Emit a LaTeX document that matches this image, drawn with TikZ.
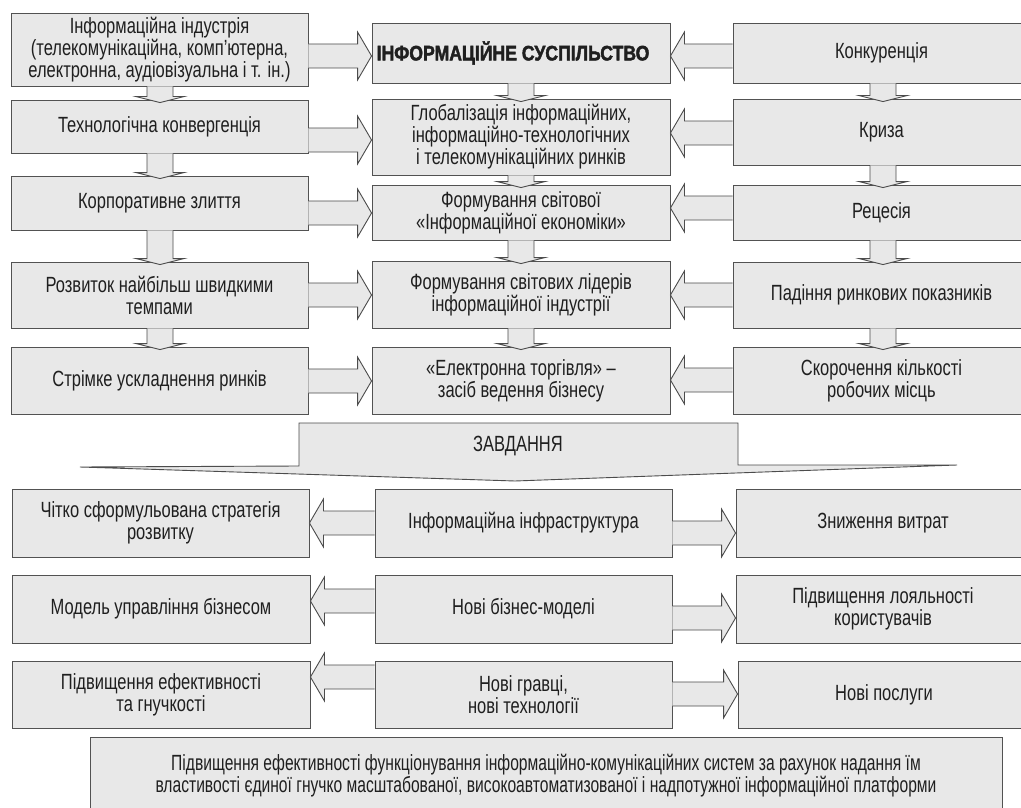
\documentclass[tikz,border=0pt]{standalone}
\usepackage{fontspec}
\setmainfont{Liberation Sans}[FakeStretch=0.75]
\newfontfamily\titlefont{Liberation Sans}[FakeStretch=0.84,FakeBold=2]
\newfontfamily\narrowfont{Liberation Sans}[FakeStretch=0.71]
\usetikzlibrary{calc}
\tikzset{
  box/.style={draw=black!68, fill=black!9, line width=0.9pt, align=center,
    inner sep=2pt, text=black!88, font=\fontsize{22}{22}\selectfont},
  barrow/.style={draw=black!70, fill=black!9, line width=0.9pt, line join=miter},
}
% box by corners: name, x1, y1, x2, y2, text
\newcommand\bx[6]{\node[box, minimum width={(#4-#2)*1pt}, minimum height={(#5-#3)*1pt}]
  (#1) at ({(#2+#4)/2},{(#3+#5)/2}) {#6};}
% right-pointing block arrow: from, to, y
\newcommand\rarr[3]{\filldraw[barrow] ($(#1.east |- 0,#3)+(0,12)$) -- ($(#2.west |- 0,#3)+(-14,12)$)
  -- ($(#2.west |- 0,#3)+(-14,24)$) -- (#2.west |- 0,#3) -- ($(#2.west |- 0,#3)+(-14,-24)$)
  -- ($(#2.west |- 0,#3)+(-14,-12)$) -- ($(#1.east |- 0,#3)+(0,-12)$);}
% left-pointing block arrow: from, to, y
\newcommand\larr[3]{\filldraw[barrow] ($(#1.west |- 0,#3)+(0,12)$) -- ($(#2.east |- 0,#3)+(14,12)$)
  -- ($(#2.east |- 0,#3)+(14,24)$) -- (#2.east |- 0,#3) -- ($(#2.east |- 0,#3)+(14,-24)$)
  -- ($(#2.east |- 0,#3)+(14,-12)$) -- ($(#1.west |- 0,#3)+(0,-12)$);}
% down block arrow: from, to, x
\newcommand\darr[3]{\filldraw[barrow] ($(#1.south -| #3,0)+(-13,0)$) -- ($(#2.north -| #3,0)+(-13,-3)$)
  -- ($(#2.north -| #3,0)+(-24,-3)$) -- ($(#2.north -| #3,0)+(0,3)$) -- ($(#2.north -| #3,0)+(24,-3)$)
  -- ($(#2.north -| #3,0)+(13,-3)$) -- ($(#1.south -| #3,0)+(13,0)$);}
\begin{document}
\begin{tikzpicture}[x=1pt,y=-1pt]
\useasboundingbox[fill=white] (0,0) rectangle (1021,808);
% left column
\bx{L1}{11}{13}{308}{86}{Інформаційна індустрія\\(телекомунікаційна, комп’ютерна,\\електронна, аудіовізуальна і т. ін.)}
\bx{L2}{11}{100}{308}{153}{Технологічна конвергенція}
\bx{L3}{11}{176}{308}{230}{Корпоративне злиття}
\bx{L4}{11}{262}{308}{328}{Розвиток найбільш швидкими\\темпами}
\bx{L5}{11}{347}{308}{414}{Стрімке ускладнення ринків}
% centre column
\bx{C1}{372}{23}{670}{83}{{\titlefont\bfseries\fontsize{21}{24}\selectfont\kern-16pt ІНФОРМАЦІЙНЕ СУСПІЛЬСТВО}}
\bx{C2}{372}{99}{670}{175}{Глобалізація інформаційних,\\інформаційно-технологічних\\і телекомунікаційних ринків}
\bx{C3}{372}{185}{670}{240}{Формування світової\\«Інформаційної економіки»}
\bx{C4}{372}{261}{670}{328}{Формування світових лідерів\\інформаційної індустрії}
\bx{C5}{372}{347}{670}{414}{«Електронна торгівля» –\\засіб ведення бізнесу}
% right column
\bx{R1}{733}{23}{1030}{83}{Конкуренція}
\bx{R2}{733}{99}{1030}{165}{Криза}
\bx{R3}{733}{185}{1030}{240}{Рецесія}
\bx{R4}{733}{262}{1030}{328}{Падіння ринкових показників}
\bx{R5}{733}{347}{1030}{414}{Скорочення кількості\\робочих місць}
% vertical arrows
\darr{L1}{L2}{160}\darr{L2}{L3}{160}\darr{L3}{L4}{160}\darr{L4}{L5}{160}
\darr{C1}{C2}{521}\darr{C2}{C3}{521}\darr{C3}{C4}{521}\darr{C4}{C5}{521}
\darr{R1}{R2}{883}\darr{R2}{R3}{883}\darr{R3}{R4}{883}\darr{R4}{R5}{883}
% horizontal arrows, upper part
\rarr{L1}{C1}{56}\rarr{L2}{C2}{140}\rarr{L3}{C3}{213}\rarr{L4}{C4}{295}\rarr{L5}{C5}{381}
\larr{R1}{C1}{56}\larr{R2}{C2}{133}\larr{R3}{C3}{208}\larr{R4}{C4}{295}\larr{R5}{C5}{380}
% ZAVDANNYA wide arrow
\filldraw[barrow] (299,466) -- (299,423) -- (738,423) -- (738,465) -- (957,465) -- (515,481) -- (80,467) -- cycle;
\node[font=\fontsize{22}{22}\selectfont, text=black!88] (zav) at (518,446) {ЗАВДАННЯ};
% lower part
\bx{LA}{12}{489}{309}{557}{Чітко сформульована стратегія\\розвитку}
\bx{CA}{375}{489}{672}{557}{Інформаційна інфраструктура}
\bx{RA}{736}{489}{1030}{557}{Зниження витрат}
\bx{LB}{12}{575}{310}{643}{Модель управління бізнесом}
\bx{CB}{375}{575}{672}{643}{Нові бізнес-моделі}
\bx{RB}{736}{575}{1030}{643}{Підвищення лояльності\\користувачів}
\bx{LC}{12}{661}{310}{728}{Підвищення ефективності\\та гнучкості}
\bx{CC}{375}{661}{672}{728}{Нові гравці,\\нові технології}
\bx{RC}{738}{661}{1030}{728}{Нові послуги}
\larr{CA}{LA}{523}\larr{CB}{LB}{601}\larr{CC}{LC}{677}
\rarr{CA}{RA}{533}\rarr{CB}{RB}{618}\rarr{CC}{RC}{694}
\bx{BOT}{90}{737}{1002}{815}{\narrowfont Підвищення ефективності функціонування інформаційно-комунікаційних систем за рахунок надання їм\\\narrowfont властивості єдиної гнучко масштабованої, високоавтоматизованої і надпотужної інформаційної платформи}
\end{tikzpicture}
\end{document}
